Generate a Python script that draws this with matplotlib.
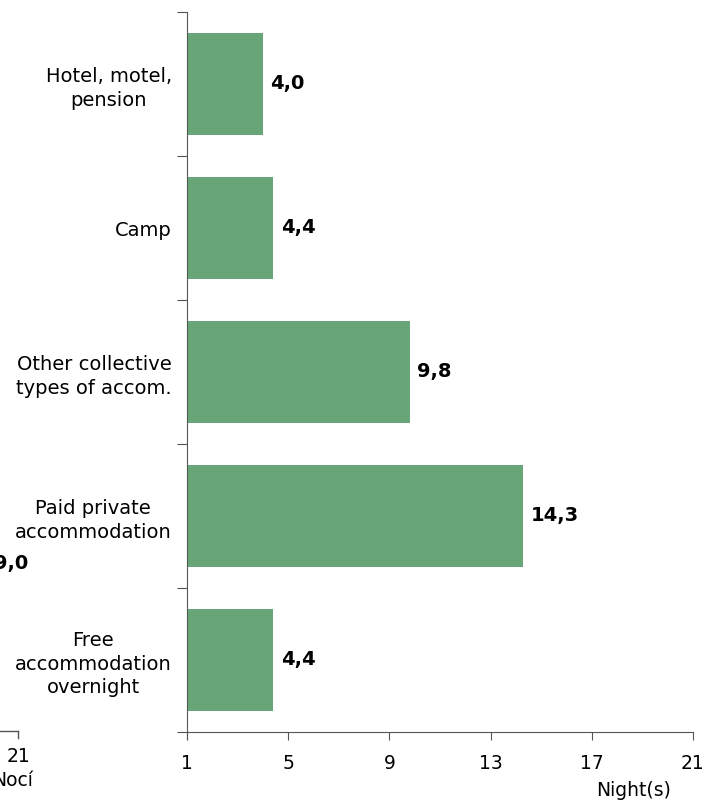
import matplotlib.pyplot as plt
from matplotlib.lines import Line2D

# accommodation types, top to bottom
categories = ['Hotel, motel,\npension', 'Camp', 'Other collective\ntypes of accom.',
              'Paid private\naccommodation', 'Free\naccommodation\novernight']
nights = [4.0, 4.4, 9.8, 14.3, 4.4]
labels = ['4,0', '4,4', '9,8', '14,3', '4,4']
xticks = [1, 5, 9, 13, 17, 21]

bar_color = '#68a678'
axis_color = '#555555'

fig = plt.figure(figsize=(7.05, 8), dpi=100)
ax = fig.add_axes([187 / 705, 68 / 800, 506 / 705, 720 / 800])

pos = list(range(len(categories)))
base = 1
ax.barh(pos, [v - base for v in nights], left=base, height=0.71, color=bar_color)
for p, v, t in zip(pos, nights, labels):
    ax.text(v + 0.3, p, t, va='center', ha='left', fontsize=14, fontweight='bold')

ax.set_ylim(len(categories) - 0.5, -0.5)
ax.set_xlim(1, 21)
ax.set_xticks(xticks)
ax.set_xticklabels([str(x) for x in xticks], fontsize=13.5)

# category ticks sit on the boundaries, labels at the centers
ax.set_yticks([p - 0.5 for p in pos] + [len(pos) - 0.5])
ax.set_yticklabels([])
ax.set_yticks(pos, minor=True)
ax.set_yticklabels(categories, minor=True, fontsize=14, ha='right',
                   multialignment='center', linespacing=1.3)
ax.tick_params(axis='y', which='minor', length=0, pad=11)
ax.tick_params(axis='y', which='major', length=7, color=axis_color)
ax.tick_params(axis='x', length=6, color=axis_color, pad=10)

for s in ['top', 'right']:
    ax.spines[s].set_visible(False)
ax.spines['left'].set_color(axis_color)
ax.spines['bottom'].set_color(axis_color)
ax.spines['left'].set_bounds(len(categories) - 0.5 + 0.05, -0.5)

fig.text(634 / 705, 1 - 790 / 800, 'Night(s)', ha='center', va='center', fontsize=13.5)

# bits of the neighbouring chart that show at the left edge
fig.text(28 / 705, 1 - 563 / 800, '9,0', ha='right', va='center', fontsize=14, fontweight='bold')
fig.text(19 / 705, 1 - 756 / 800, '21', ha='center', va='center', fontsize=13.5)
fig.text(33 / 705, 1 - 781 / 800, 'Nocí', ha='right', va='center', fontsize=13.5)
fig.add_artist(Line2D([0, 18 / 705], [1 - 731 / 800, 1 - 731 / 800], color=axis_color, lw=1))
fig.add_artist(Line2D([18 / 705, 18 / 705], [1 - 731 / 800, 1 - 738 / 800], color=axis_color, lw=1))

fig.savefig('out.png', dpi=100)
